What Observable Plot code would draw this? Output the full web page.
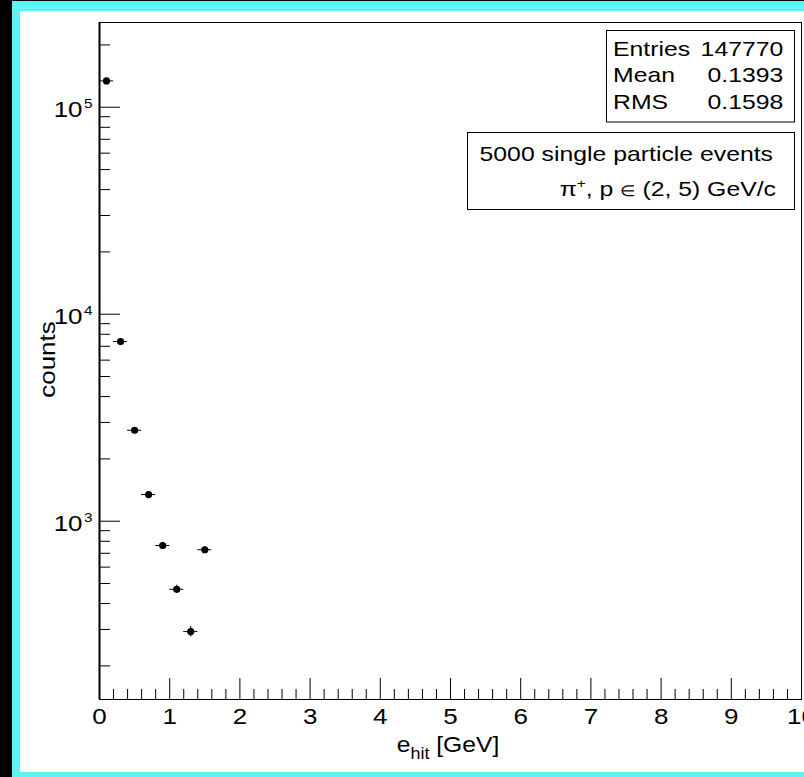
<!DOCTYPE html>
<html><head><meta charset="utf-8">
<script src="https://cdn.jsdelivr.net/npm/d3@7"></script>
<script src="https://cdn.jsdelivr.net/npm/@observablehq/plot@0.6"></script>
<style>
html,body{margin:0;padding:0;background:#000;width:804px;height:777px;overflow:hidden;}
#pad{position:absolute;left:12px;top:1px;width:784px;height:761px;border-left:8px solid #5ef4f6;border-top:10px solid #5ef4f6;border-bottom:5px solid #5ef4f6;background:#fff;}
#pad svg{display:block;}
</style></head><body><div id="pad"></div>
<script>
// ---- data ----
const binCenters = [0.1, 0.3, 0.5, 0.7, 0.9, 1.1, 1.3, 1.5];   // e_hit [GeV]
const counts     = [134000, 7380, 2750, 1345, 763, 469, 293, 728];
const binWidth   = 0.2;
const xTickLabels = [0, 1, 2, 3, 4, 5, 6, 7, 8, 9, 10];
const yDecades    = [1e3, 1e4, 1e5];
const yExponents  = ["3", "4", "5"];
const statNames   = ["Entries", "Mean", "RMS"];
const statValues  = ["147770", "0.1393", "0.1598"];
const legendLine1 = "5000 single particle events";
const legendLine2 = ["\u03c0", "+", ", p ", "\u2208", " (2, 5) GeV/c"];
const xTitle = ["e", "hit", " [GeV]"];
const yTitle = "counts";

const xDomain = [0, 10];
const yDomain = [137.6, 256700];

// ---- layout ----
const W = 784, H = 761;
const mL = 79, mR = 3, mT = 11, mB = 73;
const innerW = W - mL - mR, innerH = H - mT - mB;

const data = binCenters.map((x, i) => ({
  x, c: counts[i],
  lo: x - binWidth / 2, hi: x + binWidth / 2,
  elo: counts[i] - Math.sqrt(counts[i]), ehi: counts[i] + Math.sqrt(counts[i])
}));

const xMinor = d3.range(0, 10.0001, 0.2).filter(v => Math.abs(v - Math.round(v)) > 1e-6);
const yMinor = [];
for (let e = 2; e <= 5; e++) for (let k = 2; k <= 9; k++) {
  const v = k * Math.pow(10, e);
  if (v > yDomain[0] && v < yDomain[1]) yMinor.push(v);
}

const font = "'Liberation Sans', Arial, Helvetica, sans-serif";

const chart = Plot.plot({
  width: W, height: H,
  marginLeft: mL, marginRight: mR, marginTop: mT, marginBottom: mB,
  style: {background: "transparent", overflow: "visible", fontFamily: font, color: "#000"},
  x: {domain: xDomain, label: null},
  y: {type: "log", domain: yDomain, axis: null},
  marks: [
    Plot.tickX(xTickLabels, {x: d => d, insetTop: innerH - 21, stroke: "#000"}),
    Plot.tickX(xMinor, {x: d => d, insetTop: innerH - 10, stroke: "#000"}),
    Plot.tickY(yDecades, {y: d => d, insetRight: innerW - 21, stroke: "#000"}),
    Plot.tickY(yMinor, {y: d => d, insetRight: innerW - 11, stroke: "#000"}),
    Plot.axisX({ticks: xTickLabels, tickSize: 0, tickPadding: 9, fontSize: 22, label: null, tickFormat: d => String(d)}),
    Plot.text(yDecades, {y: d => d, text: () => "10", frameAnchor: "left", textAnchor: "end", dx: -17, dy: 3, fontSize: 22, fill: "#000"}),
    Plot.text(yDecades, {y: d => d, text: (d, i) => yExponents[i], frameAnchor: "left", textAnchor: "end", dx: -7, dy: -3, fontSize: 13, fill: "#000"}),
    Plot.frame({stroke: "#000", strokeWidth: 1}),
    Plot.ruleX([xDomain[0]], {strokeWidth: 2, stroke: "#000"}),
    Plot.ruleY(data, {y: "c", x1: "lo", x2: "hi", stroke: "#000", strokeWidth: 1}),
    Plot.ruleX(data, {x: "x", y1: "elo", y2: "ehi", stroke: "#000", strokeWidth: 1}),
    Plot.dot(data, {x: "x", y: "c", r: 3.6, fill: "#000", stroke: null})
  ]
});

document.getElementById("pad").appendChild(chart);
const svg = d3.select(chart);

// axis titles
svg.append("text")
  .attr("transform", "translate(35,348.5) rotate(-90)")
  .attr("text-anchor", "middle").attr("font-size", 22).attr("fill", "#000")
  .text(yTitle);

const xt = svg.append("text")
  .attr("x", 428).attr("y", 741).attr("text-anchor", "middle")
  .attr("font-size", 22).attr("fill", "#000").attr("data-s", 1.12);
xt.append("tspan").text(xTitle[0]);
xt.append("tspan").attr("font-size", 16).attr("dy", 7).text(xTitle[1]);
xt.append("tspan").attr("dy", -7).text(xTitle[2]);

// stats box
const sb = svg.append("g");
sb.append("rect").attr("x", 586.5).attr("y", 19.5).attr("width", 188).attr("height", 91.5)
  .attr("fill", "#fff").attr("stroke", "#000");
const rowsY = [37.3, 64, 90.7];
statNames.forEach((n, i) => {
  sb.append("text").attr("x", 593).attr("y", rowsY[i]).attr("dy", "0.35em")
    .attr("text-anchor", "start").attr("font-size", 21).attr("fill", "#000").text(n);
  sb.append("text").attr("x", 763.3).attr("y", rowsY[i]).attr("dy", "0.35em")
    .attr("text-anchor", "end").attr("font-size", 21).attr("fill", "#000").text(statValues[i]);
});

// legend box
const lb = svg.append("g");
lb.append("rect").attr("x", 447.5).attr("y", 121.5).attr("width", 327).attr("height", 77)
  .attr("fill", "#fff").attr("stroke", "#000");
lb.append("text").attr("x", 753).attr("y", 142.3).attr("dy", "0.35em")
  .attr("text-anchor", "end").attr("font-size", 21).attr("fill", "#000").text(legendLine1);
const l2 = lb.append("text").attr("x", 756).attr("y", 178).attr("dy", "0.35em")
  .attr("text-anchor", "end").attr("font-size", 21).attr("fill", "#000");
l2.append("tspan").text(legendLine2[0]);
l2.append("tspan").attr("font-size", 13).attr("dy", -8).text(legendLine2[1]);
l2.append("tspan").attr("dy", 8).text(legendLine2[2]);
l2.append("tspan").attr("font-size", 15).text(legendLine2[3]);
l2.append("tspan").text(legendLine2[4]);

// widen glyphs slightly to match the reference's wide text rendering
chart.querySelectorAll("text").forEach(el => {
  const s = +(el.getAttribute("data-s") || 1.18);
  const L = el.getComputedTextLength();
  if (L > 0) {
    el.setAttribute("textLength", (L * s).toFixed(2));
    el.setAttribute("lengthAdjust", "spacingAndGlyphs");
  }
});
</script>
</body></html>
